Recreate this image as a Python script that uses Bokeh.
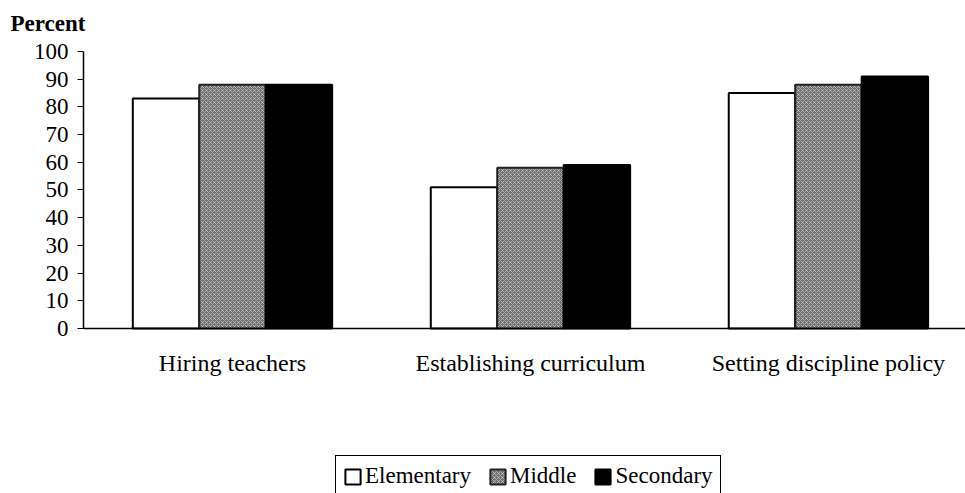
from bokeh.plotting import figure
from bokeh.models import (Range1d, FixedTicker, SingleIntervalTicker,
                          Legend, LegendItem, Label)
from bokeh.embed import file_html
from bokeh.resources import INLINE
import numpy as np

categories = ["Hiring teachers", "Establishing curriculum", "Setting discipline policy"]
series_names = ["Elementary", "Middle", "Secondary"]
elementary = [83, 51, 85]
middle = [88, 58, 88]
secondary = [88, 59, 91]
y_title = "Percent"

FONT = "Liberation Serif"

# The frame covers the whole canvas; both axes are pinned at 0 so that their
# labels, the title text and the legend can sit around the bar area.
p = figure(width=965, height=493, output_backend="svg", toolbar_location=None,
           x_range=Range1d(-0.2785, 2.96), y_range=Range1d(-59.6, 118.4),
           min_border_left=0, min_border_right=0, min_border_top=0,
           min_border_bottom=0)
p.title.text = ""
p.outline_line_color = None
p.xgrid.grid_line_color = None
p.ygrid.grid_line_color = None
p.background_fill_color = "white"
p.border_fill_color = "white"

centers = np.arange(len(categories)) + 0.5
bw = 0.223
offsets = [-bw, 0.0, bw]

r_e = p.vbar(x=[c + offsets[0] for c in centers], top=elementary, width=bw, bottom=0,
             fill_color="white", line_color="black", line_width=2)
r_m = p.vbar(x=[c + offsets[1] for c in centers], top=middle, width=bw, bottom=0,
             fill_color="#6e6e6e", line_color="#222222", line_width=2,
             hatch_pattern="x", hatch_color="#e6e6e6", hatch_scale=4,
             hatch_weight=1, hatch_alpha=0.55)
r_s = p.vbar(x=[c + offsets[2] for c in centers], top=secondary, width=bw, bottom=0,
             fill_color="black", line_color="black", line_width=2)

# x axis drawn at value 0
p.xaxis.fixed_location = 0
p.xaxis.bounds = (0, 2.96)
p.xaxis.ticker = FixedTicker(ticks=list(centers))
p.xaxis.major_label_overrides = {float(c): cat for c, cat in zip(centers, categories)}
p.xaxis.major_tick_line_color = None
p.xaxis.minor_tick_line_color = None
p.xaxis.major_tick_out = 0
p.xaxis.major_label_standoff = 22
p.xaxis.major_label_text_font = FONT
p.xaxis.major_label_text_font_size = "24px"
p.xaxis.major_label_text_color = "black"
p.xaxis.axis_line_color = "black"
p.xaxis.axis_line_width = 1.5

# y axis drawn at category-axis start
p.yaxis.fixed_location = 0
p.yaxis.bounds = (0, 100)
p.yaxis.ticker = SingleIntervalTicker(interval=10, num_minor_ticks=0)
p.yaxis.minor_tick_line_color = None
p.yaxis.major_tick_out = 6
p.yaxis.major_tick_in = 0
p.yaxis.major_tick_line_color = "black"
p.yaxis.major_label_standoff = 9
p.yaxis.major_label_text_font = FONT
p.yaxis.major_label_text_font_size = "23px"
p.yaxis.major_label_text_color = "black"
p.yaxis.axis_line_color = "black"
p.yaxis.axis_line_width = 1.5

# "Percent" heading above the value axis
p.add_layout(Label(x=-0.245, y=114.6, text=y_title, text_baseline="top",
                   text_align="left", text_font=FONT, text_font_size="23px",
                   text_font_style="bold", text_color="black"))

legend = Legend(items=[LegendItem(label=series_names[0], renderers=[r_e]),
                       LegendItem(label=series_names[1], renderers=[r_m]),
                       LegendItem(label=series_names[2], renderers=[r_s])],
                orientation="horizontal", location=(335, -4),
                glyph_width=19, glyph_height=19, label_standoff=3, spacing=17,
                padding=7, margin=0,
                label_text_font=FONT, label_text_font_size="23px",
                label_text_color="black",
                border_line_color="black", border_line_width=1.3,
                border_line_alpha=1.0,
                background_fill_color="white", background_fill_alpha=1)
p.add_layout(legend, "center")

open("out.html", "w").write(file_html(p, INLINE))
